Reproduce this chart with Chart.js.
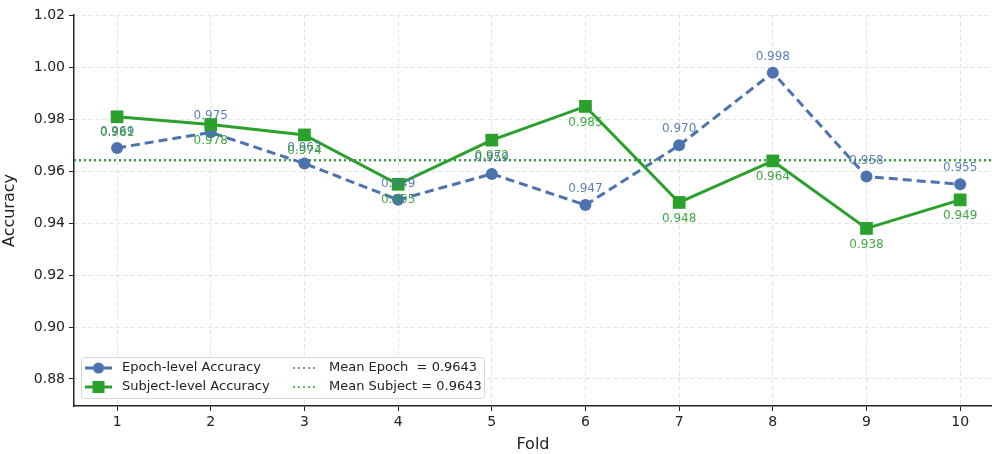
<!DOCTYPE html>
<html>
<head>
<meta charset="utf-8">
<script src="https://cdn.jsdelivr.net/npm/chart.js"></script>
<style>
  html, body { margin: 0; padding: 0; background: #fff; }
  #wrap { width: 992px; height: 454px; }
</style>
</head>
<body>
<div id="wrap"><canvas id="chart" width="992" height="454"></canvas></div>
<script>
  const folds = [1, 2, 3, 4, 5, 6, 7, 8, 9, 10];
  const epochAcc = [0.969, 0.975, 0.963, 0.949, 0.959, 0.947, 0.970, 0.998, 0.958, 0.955];
  const subjectAcc = [0.981, 0.978, 0.974, 0.955, 0.972, 0.985, 0.948, 0.964, 0.938, 0.949];
  const meanEpoch = 0.9643;
  const meanSubject = 0.9643;
  const yTicks = [0.88, 0.90, 0.92, 0.94, 0.96, 0.98, 1.00, 1.02];

  const BLUE = '#4c72b0';
  const GREEN = '#2ca02c';
  const FONT = '"DejaVu Sans", sans-serif';
  const X_MIN = 0.54, X_MAX = 10.34;
  const Y_MIN = 0.8696, Y_MAX = 1.0202;

  const toPoints = (vals) => vals.map((v, i) => ({ x: folds[i], y: v }));

  // value labels: epoch above, subject below
  const valueLabels = {
    id: 'valueLabels',
    afterDatasetsDraw(chart) {
      const ctx = chart.ctx;
      ctx.save();
      ctx.font = '12px ' + FONT;
      ctx.textAlign = 'center';
      ctx.textBaseline = 'middle';
      [[0, -16, 'rgba(76,114,176,0.9)'], [1, 16, 'rgba(44,160,44,0.9)']].forEach(([idx, dy, col]) => {
        const meta = chart.getDatasetMeta(idx);
        const vals = chart.data.datasets[idx].data;
        ctx.fillStyle = col;
        meta.data.forEach((el, i) => {
          ctx.fillText(vals[i].y.toFixed(3), el.x, el.y + dy);
        });
      });
      ctx.restore();
    }
  };

  // matplotlib-like legend in lower left
  const innerLegend = {
    id: 'innerLegend',
    afterDraw(chart) {
      const ctx = chart.ctx;
      const x0 = 81, y0 = 357, w = 403, h = 41;
      ctx.save();
      ctx.fillStyle = 'rgba(255,255,255,0.85)';
      ctx.strokeStyle = '#d6d6d6';
      ctx.lineWidth = 1;
      ctx.beginPath();
      ctx.roundRect(x0 + 0.5, y0 + 0.5, w, h, 3);
      ctx.fill();
      ctx.stroke();

      const rows = [368, 387];
      ctx.font = '13px ' + FONT;
      ctx.textBaseline = 'middle';
      ctx.fillStyle = '#222';

      const items1 = [
        { label: 'Epoch-level Accuracy', color: BLUE, shape: 'circle' },
        { label: 'Subject-level Accuracy', color: GREEN, shape: 'rect' }
      ];
      items1.forEach((it, i) => {
        const y = rows[i];
        ctx.strokeStyle = it.color;
        ctx.lineWidth = 3;
        ctx.setLineDash([]);
        ctx.beginPath();
        ctx.moveTo(85, y);
        ctx.lineTo(112, y);
        ctx.stroke();
        ctx.fillStyle = it.color;
        ctx.beginPath();
        if (it.shape === 'circle') {
          ctx.arc(98.5, y, 5.5, 0, Math.PI * 2);
        } else {
          ctx.rect(92.5, y - 6, 12, 12);
        }
        ctx.fill();
        ctx.fillStyle = '#222';
        ctx.fillText(it.label, 122, y);
      });

      const items2 = [
        { label: 'Mean Epoch  = ' + meanEpoch.toFixed(4), color: BLUE },
        { label: 'Mean Subject = ' + meanSubject.toFixed(4), color: GREEN }
      ];
      items2.forEach((it, i) => {
        const y = rows[i];
        ctx.strokeStyle = it.color;
        ctx.lineWidth = 1.6;
        ctx.setLineDash([2, 3]);
        ctx.beginPath();
        ctx.moveTo(293, y);
        ctx.lineTo(318, y);
        ctx.stroke();
        ctx.fillStyle = '#222';
        ctx.fillText(it.label, 329, y);
      });
      ctx.restore();
    }
  };

  const data = {
    datasets: [{
      label: 'Epoch-level Accuracy',
      data: toPoints(epochAcc),
      borderColor: BLUE,
      backgroundColor: BLUE,
      borderWidth: 3,
      borderDash: [9, 5],
      pointStyle: 'circle',
      pointRadius: 6,
      pointBorderWidth: 0,
      order: 2
    }, {
      label: 'Subject-level Accuracy',
      data: toPoints(subjectAcc),
      borderColor: GREEN,
      backgroundColor: GREEN,
      borderWidth: 3,
      pointStyle: 'rect',
      pointRadius: 9,
      pointBorderWidth: 0,
      order: 1
    }, {
      label: 'Mean Epoch',
      data: [{ x: X_MIN, y: meanEpoch }, { x: X_MAX, y: meanEpoch }],
      borderColor: BLUE,
      borderWidth: 2,
      borderDash: [2, 3],
      pointRadius: 0,
      order: 4
    }, {
      label: 'Mean Subject',
      data: [{ x: X_MIN, y: meanSubject }, { x: X_MAX, y: meanSubject }],
      borderColor: GREEN,
      borderWidth: 2,
      borderDash: [2, 3],
      pointRadius: 0,
      order: 3
    }]
  };

  const config = {
    type: 'line',
    data: data,
    options: {
      responsive: false,
      animation: false,
      layout: { autoPadding: false, padding: { top: 15, right: 0, left: 0, bottom: 0 } },
      plugins: {
        legend: { display: false },
        tooltip: { enabled: false }
      },
      scales: {
        x: {
          type: 'linear',
          min: X_MIN,
          max: X_MAX,
          afterBuildTicks: (scale) => { scale.ticks = folds.map(v => ({ value: v })); },
          afterFit: (scale) => { scale.height = 48; scale.paddingRight = 0; scale.paddingLeft = 0; },
          ticks: {
            color: '#222',
            font: { family: FONT, size: 14 },
            padding: 3,
            callback: (v) => String(v)
          },
          grid: {
            color: '#e3e3e3',
            tickColor: '#222',
            tickLength: 5,
            lineWidth: 1
          },
          border: { display: true, color: '#222', width: 1.5, dash: [4, 3] },
          title: {
            display: true,
            text: 'Fold',
            color: '#222',
            font: { family: FONT, size: 16 },
            padding: { top: 2, bottom: 0 }
          }
        },
        y: {
          type: 'linear',
          min: Y_MIN,
          max: Y_MAX,
          afterBuildTicks: (scale) => { scale.ticks = yTicks.map(v => ({ value: v })); },
          afterFit: (scale) => { scale.width = 74; scale.paddingTop = 0; scale.paddingBottom = 0; },
          ticks: {
            color: '#222',
            font: { family: FONT, size: 14 },
            padding: 4,
            callback: (v) => Number(v).toFixed(2)
          },
          grid: {
            color: '#e3e3e3',
            tickColor: '#222',
            tickLength: 5,
            lineWidth: 1
          },
          border: { display: true, color: '#222', width: 1.5, dash: [4, 3] },
          title: {
            display: true,
            text: 'Accuracy',
            color: '#222',
            font: { family: FONT, size: 16 },
            padding: { top: 0, bottom: 2 }
          }
        }
      }
    },
    plugins: [valueLabels, innerLegend]
  };

  new Chart(document.getElementById('chart'), config);
</script>
</body>
</html>
